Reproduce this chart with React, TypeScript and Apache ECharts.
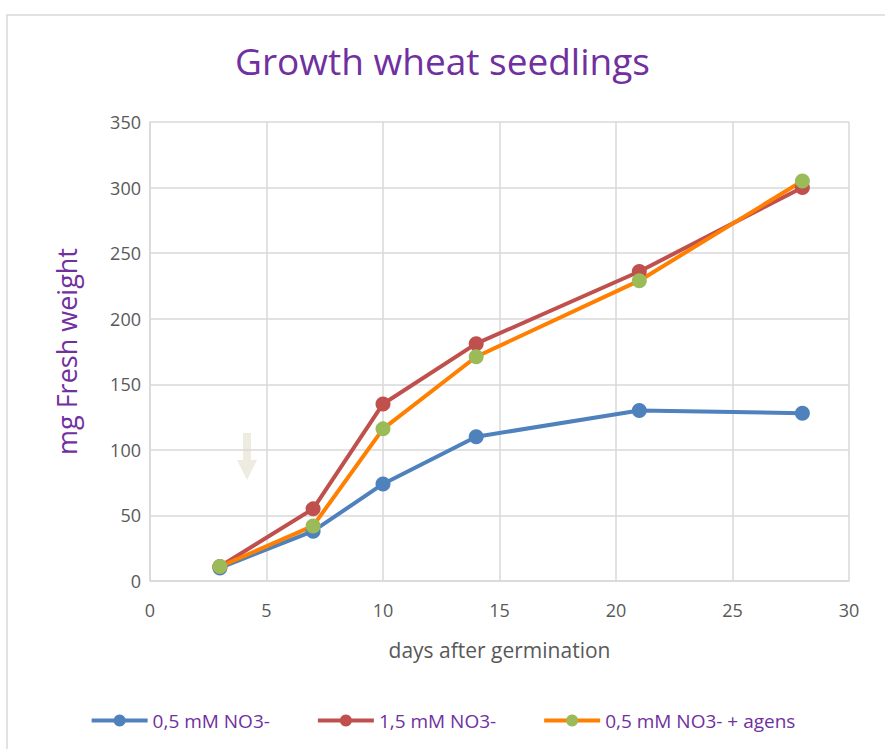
import React, { useEffect, useRef } from "react";
import * as echarts from "echarts";

const days = [3, 7, 10, 14, 21, 28];
const low = [10, 38, 74, 110, 130, 128];
const high = [11, 55, 135, 181, 236, 300];
const lowAgens = [11, 42, 116, 171, 229, 305];
const seriesNames = ["0,5 mM NO3-", "1,5 mM NO3-", "0,5 mM NO3- + agens"];

const pairs = (ys: number[]) => days.map((d, i) => [d, ys[i]]);

export default function App() {
  const ref = useRef<HTMLDivElement>(null);
  useEffect(() => {
    if (!ref.current) return;
    const chart = echarts.init(ref.current, null, { renderer: "svg" });
    const font = "Open Sans";
    const gray = "#595959";
    const grid = "#D9D9D9";
    const purple = "#7030A0";
    const mk = (name: string, data: number[], line: string, marker: string) => ({
      name,
      type: "line",
      data: pairs(data),
      symbol: "circle",
      symbolSize: 15,
      lineStyle: { color: line, width: 4 },
      itemStyle: { color: marker },
      color: line,
    });
    chart.setOption({
      animation: false,
      backgroundColor: "#fff",
      title: {
        text: "Growth wheat seedlings",
        left: "center",
        top: 37,
        textStyle: { fontFamily: font, fontSize: 37, fontWeight: "normal", color: purple },
      },
      grid: { left: 150, right: 36, top: 122, bottom: 168 },
      xAxis: {
        type: "value",
        min: 0,
        max: 30,
        interval: 5,
        name: "days after germination",
        nameLocation: "middle",
        nameGap: 58,
        nameTextStyle: { fontFamily: font, fontSize: 21, color: gray },
        axisLine: { show: true, lineStyle: { color: grid, width: 1.5 } },
        axisTick: { show: false },
        splitLine: { show: true, lineStyle: { color: grid, width: 1.5 } },
        axisLabel: { fontFamily: font, fontSize: 18, color: gray, margin: 20 },
      },
      yAxis: {
        type: "value",
        min: 0,
        max: 350,
        interval: 50,
        name: "mg Fresh weight",
        nameLocation: "middle",
        nameGap: 70,
        nameTextStyle: { fontFamily: font, fontSize: 27, color: purple },
        axisLine: { show: true, lineStyle: { color: grid, width: 1.5 } },
        axisTick: { show: false },
        splitLine: { show: true, lineStyle: { color: grid, width: 1.5 } },
        axisLabel: { fontFamily: font, fontSize: 18, color: gray, margin: 9 },
      },
      legend: {
        bottom: 14,
        left: "center",
        itemWidth: 56,
        itemHeight: 15,
        itemGap: 46,
        lineStyle: { width: 4 },
        textStyle: { fontFamily: font, fontSize: 19, color: purple },
        data: seriesNames,
      },
      graphic: [
        {
          type: "rect",
          shape: { x: 7, y: 15, width: 1000, height: 1000 },
          style: { fill: "none", stroke: "#D9D9D9", lineWidth: 1.5 },
          silent: true,
          z: -10,
        },
        {
          type: "polygon",
          shape: {
            points: [
              [243, 433], [251, 433], [251, 460], [257, 460], [247, 480], [237, 460], [243, 460],
            ],
          },
          style: { fill: "#EEECE1" },
          silent: true,
        },
      ],
      series: [
        mk(seriesNames[0], low, "#4F81BD", "#4F81BD"),
        mk(seriesNames[1], high, "#C0504D", "#C0504D"),
        mk(seriesNames[2], lowAgens, "#FF7F00", "#9BBB59"),
      ],
    });
    return () => chart.dispose();
  }, []);
  return <div ref={ref} style={{ width: 885, height: 749, position: "absolute", left: 0, top: 0 }} />;
}
